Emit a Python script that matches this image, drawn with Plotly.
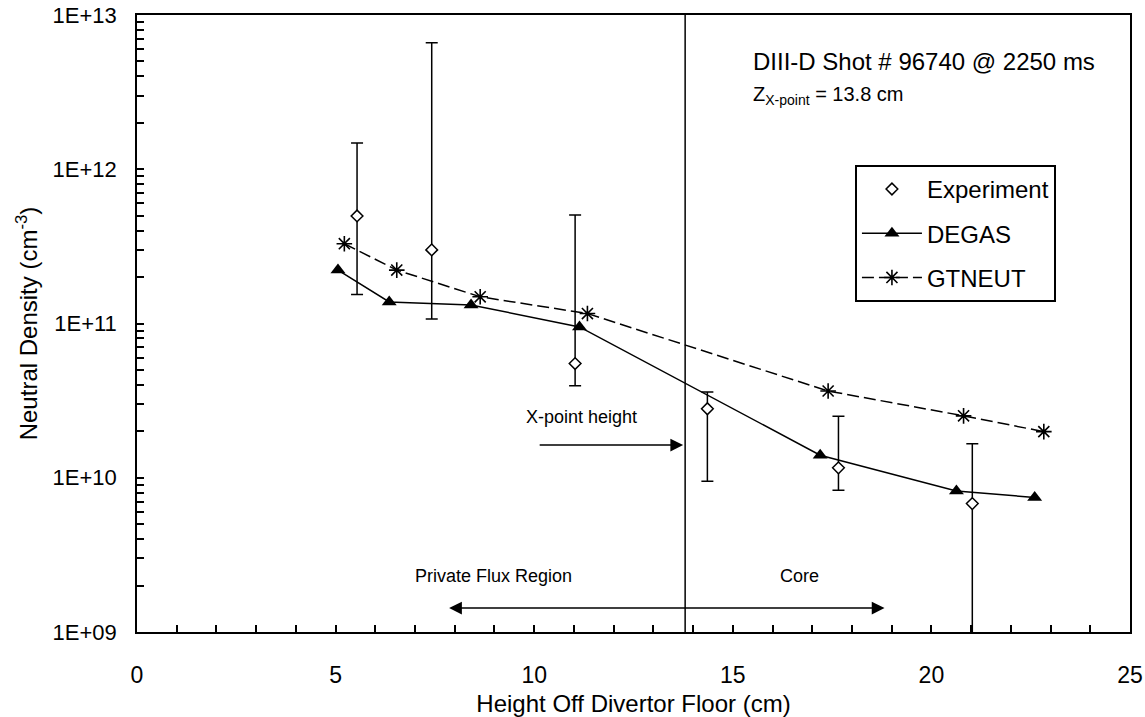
import math
import plotly.graph_objects as go

# Measured neutral density (diamonds with asymmetric error bars)
exp_x = [5.54, 7.42, 11.03, 14.36, 17.66, 21.03]
exp_y = [4.98e11, 3.0e11, 5.5e10, 2.8e10, 1.16e10, 6.8e9]
exp_hi = [1.48e12, 6.6e12, 5.05e11, 3.6e10, 2.5e10, 1.66e10]
exp_lo = [1.54e11, 1.07e11, 3.95e10, 9.5e9, 8.3e9, 1e8]

# DEGAS model
degas_x = [5.06, 6.35, 8.41, 11.14, 17.2, 20.63, 22.6]
degas_y = [2.22e11, 1.38e11, 1.32e11, 9.5e10, 1.40e10, 8.2e9, 7.45e9]

# GTNEUT model
gt_x = [5.22, 6.54, 8.64, 11.34, 17.4, 20.81, 22.83]
gt_y = [3.29e11, 2.22e11, 1.49e11, 1.16e11, 3.65e10, 2.52e10, 1.99e10]

# Axis ticks
y_tickvals = [1e9, 1e10, 1e11, 1e12, 1e13]
y_ticktext = ["1E+09", "1E+10", "1E+11", "1E+12", "1E+13"]
y_minor = [m * 10 ** d for d in range(9, 13) for m in range(2, 10)]

x_point = 13.8

FONT = "Liberation Sans, Arial, sans-serif"

fig = go.Figure()

fig.add_trace(go.Scatter(
    x=exp_x, y=exp_y, mode="markers", name="Experiment",
    legendgroup="exp",
    marker=dict(symbol="diamond", size=9, color="white",
                line=dict(color="black", width=1.5)),
    error_y=dict(type="data", symmetric=False,
                 array=[h - v for h, v in zip(exp_hi, exp_y)],
                 arrayminus=[v - l for v, l in zip(exp_y, exp_lo)],
                 color="black", thickness=1.5, width=6),
))

fig.add_trace(go.Scatter(
    x=degas_x, y=degas_y, mode="lines+markers", name="DEGAS",
    legendgroup="degas",
    line=dict(color="black", width=1.5),
    marker=dict(symbol="triangle-up", size=13, color="black"),
))

fig.add_trace(go.Scatter(
    x=gt_x, y=gt_y, mode="lines+markers", name="GTNEUT",
    legendgroup="gt",
    line=dict(color="black", width=1.5, dash="12px,5px"),
    marker=dict(symbol="asterisk-open", size=13,
                line=dict(color="black", width=1.6)),
))

# X-point location
fig.add_shape(type="line", xref="x", yref="paper", x0=x_point, x1=x_point,
              y0=0, y1=1, line=dict(color="black", width=1.5))

annotations = [
    dict(x=x_point - 0.05, y=math.log10(1.63e10), ax=10.1, ay=math.log10(1.63e10),
         xref="x", yref="y", axref="x", ayref="y", text="", showarrow=True,
         arrowhead=2, arrowsize=1.7, arrowwidth=1.5, arrowcolor="black"),
    dict(x=11.2, y=math.log10(2.48e10), xref="x", yref="y", text="X-point height",
         showarrow=False, font=dict(size=18)),
    dict(x=18.82, y=math.log10(1.43e9), ax=7.82, ay=math.log10(1.43e9),
         xref="x", yref="y", axref="x", ayref="y", text="", showarrow=True,
         arrowhead=2, startarrowhead=2, arrowside="end+start",
         arrowsize=1.7, startarrowsize=1.7, arrowwidth=1.5, arrowcolor="black"),
    dict(x=8.97, y=math.log10(2.32e9), xref="x", yref="y", text="Private Flux Region",
         showarrow=False, font=dict(size=18)),
    dict(x=16.68, y=math.log10(2.32e9), xref="x", yref="y", text="Core",
         showarrow=False, font=dict(size=18)),
    dict(x=0.618, y=0.924, xref="paper", yref="paper", xanchor="left", yanchor="middle",
         text="DIII-D Shot # 96740 @ 2250 ms", showarrow=False, font=dict(size=24)),
    dict(x=0.618, y=0.870, xref="paper", yref="paper", xanchor="left", yanchor="middle",
         text="Z<sub>X-point</sub> = 13.8 cm", showarrow=False, font=dict(size=20)),
]

fig.update_layout(
    width=1145, height=717,
    margin=dict(l=137, r=15, t=15, b=85, pad=0, autoexpand=False),
    paper_bgcolor="white", plot_bgcolor="white",
    font=dict(family=FONT, size=23, color="black"),
    showlegend=True,
    legend=dict(x=0.723, y=0.757, xanchor="left", yanchor="top",
                bgcolor="white", bordercolor="black", borderwidth=2,
                font=dict(size=24), itemwidth=60, tracegroupgap=10),
    annotations=annotations,
    xaxis=dict(
        range=[0, 25], dtick=5, tick0=0, automargin=False,
        showline=True, mirror=True, linecolor="black", linewidth=1.5,
        ticks="inside", ticklen=7, tickwidth=1.5, tickcolor="black",
        minor=dict(ticks="inside", ticklen=7, tickwidth=1.5, dtick=1, tickcolor="black"),
        showgrid=False, zeroline=False, ticklabelstandoff=22,
        tickfont=dict(size=23),
        title=dict(text="Height Off Divertor Floor (cm)", font=dict(size=24), standoff=14),
    ),
    yaxis=dict(
        type="log", range=[9, 13], automargin=False,
        tickmode="array", tickvals=y_tickvals, ticktext=y_ticktext,
        showline=True, mirror=True, linecolor="black", linewidth=1.5,
        ticks="inside", ticklen=7, tickwidth=1.5, tickcolor="black",
        minor=dict(ticks="inside", ticklen=7, tickwidth=1.5, tickcolor="black",
                   tickmode="array", tickvals=y_minor),
        showgrid=False, zeroline=False, ticklabelstandoff=14,
        tickfont=dict(size=22),
        title=dict(text="Neutral Density (cm<sup>-3</sup>)", font=dict(size=24), standoff=8),
    ),
)

fig.write_html("out.html")
